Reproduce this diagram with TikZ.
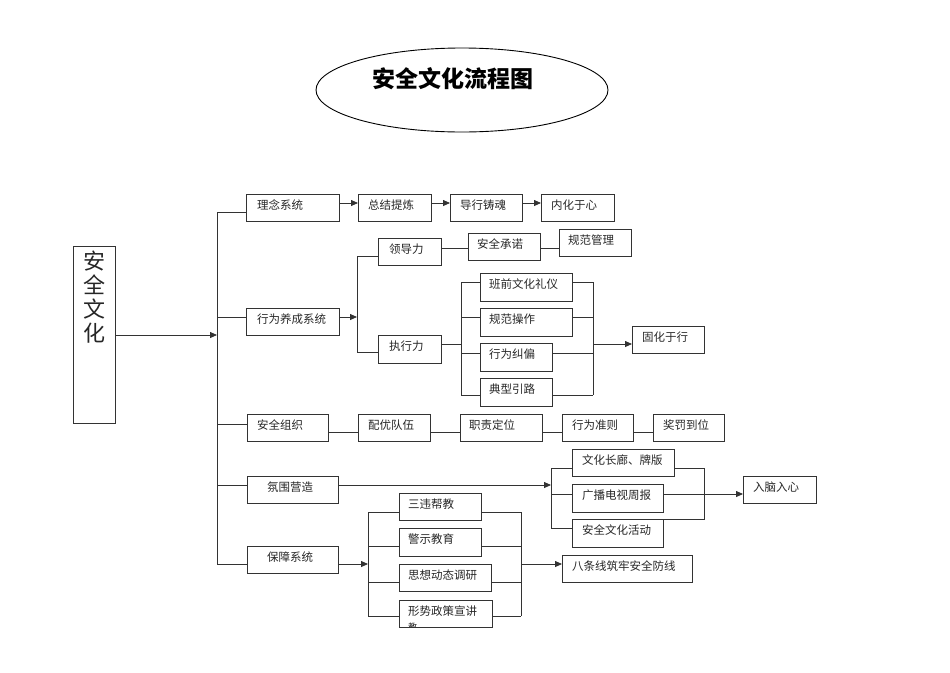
\documentclass[tikz,border=0pt]{standalone}
\usepackage{fontspec}
\setmainfont{Noto Sans CJK SC}
\usetikzlibrary{arrows.meta,shapes.geometric}
\tikzset{
  box/.style={draw=black!80, line width=0.8pt, inner sep=0pt, outer sep=0pt, anchor=north west},
  txt/.style={anchor=west, inner sep=0pt, font=\fontsize{11.5}{13}\selectfont, text=black!85},
  ln/.style={draw=black!80, line width=0.8pt},
  arr/.style={ln, -{Triangle[length=7pt,width=6pt]}}
}
\newcommand\bx[7]{%
  \node[box, minimum width=#4-#2, minimum height=#5-#3] (#1) at (#2,#3) {};
  \node[txt] (#1-t) at (#6,#3+11) {#7};}
\begin{document}
\begin{tikzpicture}[x=1pt,y=-1pt]
\useasboundingbox (0,0) rectangle (950,672);
% title
\node[ellipse, draw=black, line width=0.9pt, minimum width=292, minimum height=84, inner sep=0pt] (title) at (462,90) {};
\node[inner sep=0pt, font=\fontsize{23}{24}\bfseries\selectfont] (title-t) at (453,79) {安全文化流程图};
% big box
\node[box, minimum width=42, minimum height=177] (big) at (73,246) {};
\node[anchor=north, inner sep=0pt, align=center, font=\fontsize{22}{24}\selectfont, text=black!85] (big-t) at (94,251) {安\\全\\文\\化};
% level 1
\bx{lnx}{246}{194}{339}{221}{257}{理念系统}
\bx{xw}{246}{308}{339}{335}{257}{行为养成系统}
\bx{zz}{247}{414}{328}{441}{257}{安全组织}
\bx{fw}{247}{476}{338}{503}{267}{氛围营造}
\bx{bz}{247}{546}{338}{573}{267}{保障系统}
% row 1
\bx{zj}{358}{194}{431}{221}{368}{总结提炼}
\bx{dx}{450}{194}{522}{221}{460}{导行铸魂}
\bx{nh}{541}{194}{614}{221}{551}{内化于心}
% row 2
\bx{ld}{378}{238}{441}{265}{389}{领导力}
\bx{aq}{468}{233}{540}{260}{477}{安全承诺}
\bx{gf}{559}{229}{631}{256}{568}{规范管理}
\bx{zx}{378}{335}{441}{363}{389}{执行力}
\bx{bq}{480}{273}{572}{301}{489}{班前文化礼仪}
\bx{gc}{480}{308}{572}{336}{489}{规范操作}
\bx{jp}{480}{343}{552}{371}{489}{行为纠偏}
\bx{dl}{480}{378}{552}{406}{489}{典型引路}
\bx{gh}{632}{326}{704}{353}{642}{固化于行}
% row 3
\bx{py}{358}{414}{430}{441}{368}{配优队伍}
\bx{zw}{460}{414}{542}{441}{469}{职责定位}
\bx{zc}{562}{414}{633}{441}{572}{行为准则}
\bx{jf}{653}{414}{724}{441}{663}{奖罚到位}
% row 4
\bx{wh}{572}{449}{674}{476}{582}{文化长廊、牌版}
\bx{gb}{572}{484}{663}{512}{582}{广播电视周报}
\bx{hd}{572}{519}{663}{547}{582}{安全文化活动}
\bx{rn}{743}{476}{816}{503}{753}{入脑入心}
% row 5
\bx{sw}{399}{493}{481}{520}{408}{三违帮教}
\bx{js}{399}{528}{481}{556}{408}{警示教育}
\bx{sx}{399}{564}{491}{591}{408}{思想动态调研}
\bx{xs}{399}{600}{492}{627}{408}{形势政策宣讲}
\begin{scope}
  \clip (400,601) rectangle (491,626.5);
  \node[txt, font=\fontsize{9}{10}\selectfont] (xs-t2) at (408,627) {教};
\end{scope}
\bx{bt}{562}{555}{692}{582}{572}{八条线筑牢安全防线}
% trunk
\coordinate (tk1) at (217,212);
\coordinate (tk2) at (217,317);
\coordinate (tkm) at (217,335);
\coordinate (tk3) at (217,424);
\coordinate (tk4) at (217,485);
\coordinate (tk5) at (217,564);
\draw[arr] (big.east |- tkm) -- (tkm);
\draw[ln] (tk1) -- (tk5);
\draw[ln] (tk1) -- (lnx.west |- tk1);
\draw[ln] (tk2) -- (xw.west |- tk2);
\draw[ln] (tk3) -- (zz.west |- tk3);
\draw[ln] (tk4) -- (fw.west |- tk4);
\draw[ln] (tk5) -- (bz.west |- tk5);
% row 1
\coordinate (r1) at (0,203);
\draw[arr] (lnx.east |- r1) -- (zj.west |- r1);
\draw[arr] (zj.east |- r1) -- (dx.west |- r1);
\draw[arr] (dx.east |- r1) -- (nh.west |- r1);
% row 2
\coordinate (b2m) at (357,317);
\coordinate (b2t) at (357,256);
\coordinate (b2b) at (357,352);
\draw[arr] (xw.east |- b2m) -- (b2m);
\draw[ln] (ld.west |- b2t) -- (b2t) -- (b2b) -- (zx.west |- b2b);
\coordinate (r2) at (0,248);
\draw[ln] (ld.east |- r2) -- (aq.west |- r2);
\draw[ln] (aq.east |- r2) -- (gf.west |- r2);
\coordinate (b3m) at (461,344);
\coordinate (b3t) at (461,282);
\coordinate (b3a) at (461,317);
\coordinate (b3c) at (461,353);
\coordinate (b3b) at (461,395);
\draw[ln] (zx.east |- b3m) -- (b3m);
\draw[ln] (b3t) -- (b3b);
\draw[ln] (b3t) -- (bq.west |- b3t);
\draw[ln] (b3a) -- (gc.west |- b3a);
\draw[ln] (b3c) -- (jp.west |- b3c);
\draw[ln] (b3b) -- (dl.west |- b3b);
\coordinate (c3t) at (593,282);
\coordinate (c3a) at (593,317);
\coordinate (c3m) at (593,344);
\coordinate (c3c) at (593,353);
\coordinate (c3b) at (593,395);
\draw[ln] (c3t) -- (c3b);
\draw[ln] (bq.east |- c3t) -- (c3t);
\draw[ln] (gc.east |- c3a) -- (c3a);
\draw[ln] (jp.east |- c3c) -- (c3c);
\draw[ln] (dl.east |- c3b) -- (c3b);
\draw[arr] (c3m) -- (gh.west |- c3m);
% row 3
\coordinate (r3) at (0,432);
\draw[ln] (zz.east |- r3) -- (py.west |- r3);
\draw[ln] (py.east |- r3) -- (zw.west |- r3);
\draw[ln] (zw.east |- r3) -- (zc.west |- r3);
\draw[ln] (zc.east |- r3) -- (jf.west |- r3);
% row 4
\coordinate (b4m) at (551,485);
\coordinate (b4t) at (551,468);
\coordinate (b4a) at (551,494);
\coordinate (b4b) at (551,528);
\draw[arr] (fw.east |- b4m) -- (b4m);
\draw[ln] (b4t) -- (b4b);
\draw[ln] (b4t) -- (wh.west |- b4t);
\draw[ln] (b4a) -- (gb.west |- b4a);
\draw[ln] (b4b) -- (hd.west |- b4b);
\coordinate (c4t) at (704,468);
\coordinate (c4b) at (704,519);
\draw[ln] (wh.east |- c4t) -- (c4t) -- (c4b) -- (hd.north east);
\draw[arr] (gb.east |- b4a) -- (rn.west |- b4a);
% row 5
\coordinate (b5m) at (368,564);
\coordinate (b5t) at (368,512);
\coordinate (b5a) at (368,546);
\coordinate (b5c) at (368,582);
\coordinate (b5b) at (368,616);
\draw[arr] (bz.east |- b5m) -- (b5m);
\draw[ln] (b5t) -- (b5b);
\draw[ln] (b5t) -- (sw.west |- b5t);
\draw[ln] (b5a) -- (js.west |- b5a);
\draw[ln] (b5c) -- (sx.west |- b5c);
\draw[ln] (b5b) -- (xs.west |- b5b);
\coordinate (c5t) at (521,512);
\coordinate (c5a) at (521,546);
\coordinate (c5m) at (521,564);
\coordinate (c5c) at (521,582);
\coordinate (c5b) at (521,616);
\draw[ln] (c5t) -- (c5b);
\draw[ln] (sw.east |- c5t) -- (c5t);
\draw[ln] (js.east |- c5a) -- (c5a);
\draw[ln] (sx.east |- c5c) -- (c5c);
\draw[ln] (xs.east |- c5b) -- (c5b);
\draw[arr] (c5m) -- (bt.west |- c5m);
\end{tikzpicture}
\end{document}
